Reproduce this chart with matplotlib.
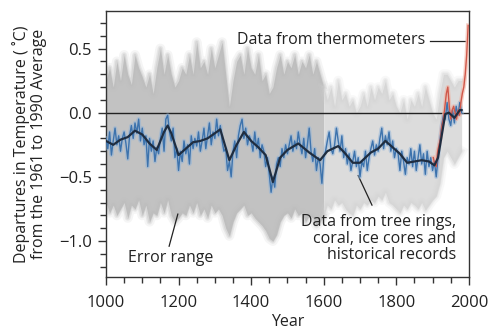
import numpy as np
import matplotlib
matplotlib.use('Agg')
import matplotlib.pyplot as plt

plt.rcParams['font.family'] = ['Open Sans', 'DejaVu Sans']

# Smoothed reconstruction (black line)
smooth_years = [1000, 1020, 1040, 1060, 1080, 1100, 1120, 1140, 1160, 1170, 1180, 1200,
                1220, 1240, 1260, 1280, 1300, 1315, 1340, 1360, 1380, 1400, 1420, 1440,
                1460, 1480, 1500, 1530, 1560, 1590, 1610, 1640, 1660, 1680, 1700, 1730,
                1750, 1770, 1790, 1810, 1830, 1850, 1870, 1890, 1905, 1915, 1925, 1935,
                1945, 1960, 1975, 1980]
smooth_vals = [-0.22, -0.25, -0.21, -0.19, -0.14, -0.17, -0.24, -0.29, -0.15, -0.10, -0.16, -0.33,
               -0.28, -0.23, -0.22, -0.20, -0.16, -0.13, -0.37, -0.25, -0.15, -0.22, -0.27, -0.33,
               -0.54, -0.35, -0.29, -0.24, -0.31, -0.37, -0.30, -0.26, -0.32, -0.39, -0.39, -0.31,
               -0.28, -0.22, -0.27, -0.32, -0.39, -0.38, -0.37, -0.38, -0.41, -0.35, -0.18, -0.01,
               0.00, -0.04, 0.02, 0.02]

# Proxy reconstruction, 5-year samples (blue line)
proxy_years = list(range(1000, 1981, 5))
proxy_vals = [
    -0.20, -0.28, -0.15, -0.33, -0.22, -0.12, -0.25, -0.18, -0.30, -0.20,
    -0.15, -0.24, -0.36, -0.18, -0.10, -0.20, -0.08, -0.16, -0.05, -0.22,
    -0.12, -0.25, -0.18, -0.42, -0.20, -0.30, -0.22, -0.38, -0.27, -0.32,
    -0.20, -0.12, -0.30, -0.05, -0.02, -0.15, -0.22, -0.12, -0.35, -0.28,
    -0.45, -0.30, -0.38, -0.22, -0.32, -0.25, -0.40, -0.18, -0.28, -0.20,
    -0.26, -0.15, -0.30, -0.22, -0.12, -0.28, -0.18, -0.08, -0.25, -0.15,
    -0.20, -0.05, -0.18, -0.10, -0.22, -0.30, -0.28, -0.45, -0.38, -0.50,
    -0.30, -0.22, -0.35, -0.18, -0.10, -0.05, -0.20, -0.12, -0.25, -0.18,
    -0.22, -0.30, -0.15, -0.28, -0.20, -0.35, -0.25, -0.30, -0.42, -0.35,
    -0.48, -0.62, -0.50, -0.58, -0.40, -0.35, -0.42, -0.28, -0.35, -0.25,
    -0.32, -0.25, -0.18, -0.30, -0.22, -0.28, -0.15, -0.25, -0.32, -0.20,
    -0.35, -0.25, -0.12, -0.30, -0.38, -0.28, -0.45, -0.35, -0.40, -0.55,
    -0.35, -0.30, -0.22, -0.15, -0.28, -0.32, -0.25, -0.12, -0.22, -0.30,
    -0.18, -0.35, -0.28, -0.40, -0.32, -0.45, -0.38, -0.30, -0.42, -0.35,
    -0.50, -0.38, -0.42, -0.30, -0.45, -0.35, -0.28, -0.22, -0.33, -0.25,
    -0.30, -0.20, -0.12, -0.28, -0.18, -0.25, -0.15, -0.30, -0.22, -0.35,
    -0.28, -0.32, -0.45, -0.30, -0.38, -0.48, -0.35, -0.40, -0.28, -0.42,
    -0.30, -0.45, -0.35, -0.25, -0.40, -0.32, -0.48, -0.30, -0.42, -0.35,
    -0.45, -0.38, -0.50, -0.35, -0.22, -0.10, -0.02, -0.05, 0.08, -0.05,
    -0.10, 0.02, -0.08, 0.05, -0.02, 0.08, 0.00]

# Error range (gray band), 10-year samples
err_years = list(range(1000, 1981, 10))
err_upper = [
    0.25, 0.35, 0.20, 0.40, 0.25, 0.45, 0.30, 0.22, 0.45, 0.35,
    0.28, 0.20, 0.30, 0.15, 0.35, 0.50, 0.30, 0.45, 0.30, 0.20,
    0.25, 0.35, 0.30, 0.45, 0.30, 0.55, 0.35, 0.40, 0.30, 0.50,
    0.35, 0.45, 0.55, 0.30, 0.05, 0.25, 0.40, 0.45, 0.30, 0.50,
    0.35, 0.30, 0.45, 0.25, 0.30, 0.15, 0.20, 0.35, 0.45, 0.30,
    0.40, 0.35, 0.45, 0.30, 0.40, 0.35, 0.45, 0.30, 0.40, 0.30,
    0.20, 0.10, 0.20, 0.05, 0.25, 0.10, 0.15, 0.05, 0.10, 0.00,
    0.05, 0.15, 0.05, 0.20, 0.10, 0.20, 0.15, 0.25, 0.10, 0.15,
    0.05, 0.00, 0.10, -0.05, 0.10, 0.05, 0.15, 0.05, 0.20, 0.10,
    0.00, -0.05, 0.15, 0.30, 0.30, 0.25, 0.20, 0.25, 0.25]
err_lower = [
    -0.70, -0.78, -0.72, -0.80, -0.75, -0.70, -0.82, -0.72, -0.75, -0.68,
    -0.80, -0.72, -0.85, -0.78, -0.80, -0.70, -0.78, -0.68, -0.80, -0.85,
    -0.82, -0.78, -0.80, -0.72, -0.78, -0.70, -0.80, -0.75, -0.82, -0.72,
    -0.78, -0.75, -0.80, -0.90, -0.96, -0.85, -0.78, -0.75, -0.72, -0.80,
    -0.78, -0.82, -0.85, -0.88, -0.92, -0.98, -1.00, -0.95, -0.85, -0.80,
    -0.78, -0.82, -0.75, -0.80, -0.78, -0.85, -0.80, -0.82, -0.88, -0.85,
    -0.80, -0.72, -0.75, -0.68, -0.72, -0.70, -0.75, -0.78, -0.80, -0.72,
    -0.75, -0.70, -0.72, -0.68, -0.70, -0.65, -0.68, -0.62, -0.70, -0.72,
    -0.75, -0.78, -0.72, -0.75, -0.70, -0.72, -0.75, -0.70, -0.76, -0.72,
    -0.68, -0.65, -0.55, -0.35, -0.30, -0.35, -0.40, -0.35, -0.30]

# Instrumental record (red line)
therm_years = list(range(1902, 1999, 4))
therm_vals = [-0.35, -0.40, -0.42, -0.30, -0.25, -0.20, -0.10, -0.05, 0.05, 0.15,
              0.20, 0.05, -0.05, 0.02, 0.05, 0.00, -0.05, 0.02, -0.02, 0.08,
              0.15, 0.20, 0.30, 0.45, 0.68]

fig = plt.figure(figsize=(4.92, 3.29), dpi=100)
ax = fig.add_axes([0.2154, 0.158, 0.7376, 0.8077])

ey = np.array(err_years)
up = np.array(err_upper)
lo = np.array(err_lower)
early = ey <= 1600
late = ey >= 1600
ax.fill_between(ey[early], lo[early], up[early], color='#c2c2c2', lw=0, zorder=1)
ax.fill_between(ey[late], lo[late], up[late], color='#dcdcdc', lw=0, zorder=1)
# soft edges so the band looks blurred
for w, a in [(7, 0.15), (4, 0.25), (2, 0.35)]:
    ax.plot(ey[early], up[early], color='#bdbdbd', lw=w, alpha=a, zorder=1)
    ax.plot(ey[early], lo[early], color='#bdbdbd', lw=w, alpha=a, zorder=1)
    ax.plot(ey[late], up[late], color='#d4d4d4', lw=w, alpha=a, zorder=1)
    ax.plot(ey[late], lo[late], color='#d4d4d4', lw=w, alpha=a, zorder=1)

ax.axhline(0, color='#222222', lw=1.0, zorder=2)

ax.plot(proxy_years, proxy_vals, color='#8fb3d9', lw=3.0, alpha=0.5, zorder=3)
ax.plot(proxy_years, proxy_vals, color='#3d73ad', lw=1.0, zorder=4)
ax.plot(therm_years, therm_vals, color='#f0b0a0', lw=3.0, alpha=0.6, zorder=3)
ax.plot(therm_years, therm_vals, color='#d0584a', lw=1.0, zorder=4)
ax.plot(smooth_years, smooth_vals, color='#1f2d40', lw=1.6, zorder=5)

ax.set_xlim(1000, 2000)
ax.set_ylim(-1.28, 0.79)
ax.set_xticks([1000, 1200, 1400, 1600, 1800, 2000])
ax.set_xticks(np.arange(1000, 2001, 50), minor=True)
ax.set_yticks([-1.0, -0.5, 0.0, 0.5])
ax.set_yticklabels(['\u22121.0', '\u22120.5', '0.0', '0.5'])
ax.set_yticks(np.arange(-1.2, 0.75, 0.1), minor=True)
ax.tick_params(which='both', direction='out', colors='#333333', labelcolor='#222222',
               labelsize=12, width=1)
ax.tick_params(which='major', length=6, pad=4)
ax.tick_params(axis='x', which='major', pad=7)
ax.tick_params(which='minor', length=4)
for s in ax.spines.values():
    s.set_color('#333333')
    s.set_linewidth(1)

ax.set_xlabel('Year', fontsize=11.5, labelpad=2, color='#222222')
ax.set_ylabel('Departures in Temperature ( \u02daC)\nfrom the 1961 to 1990 Average',
              fontsize=11.5, labelpad=9, color='#222222', linespacing=1.05)

ax.text(1880, 0.565, 'Data from thermometers', fontsize=11.5, ha='right', va='center',
        color='#222222')
ax.plot([1893, 1990], [0.555, 0.555], color='#222222', lw=0.9)

ax.text(1177, -1.13, 'Error range', fontsize=11.5, ha='center', va='center', color='#222222')
ax.plot([1198, 1174], [-0.79, -1.04], color='#222222', lw=0.9)

ax.text(1965, -0.98, 'Data from tree rings,\ncoral, ice cores and\nhistorical records',
        fontsize=11.5, ha='right', va='center', linespacing=1.05, color='#222222')
ax.plot([1695, 1733], [-0.49, -0.72], color='#222222', lw=0.9)

fig.savefig('out.png', dpi=100)
